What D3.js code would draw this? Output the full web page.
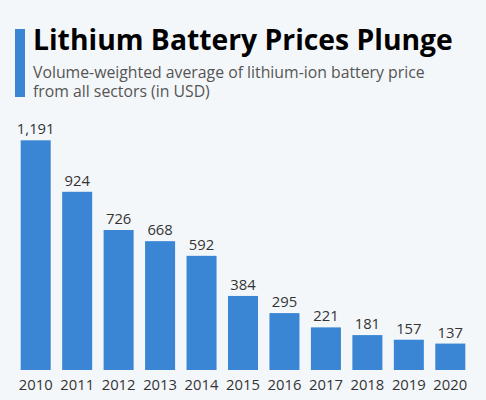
<!DOCTYPE html>
<html><head><meta charset="utf-8">
<script src="https://cdn.jsdelivr.net/npm/d3@7"></script>
<style>body{margin:0;background:#f4f7fa;}svg{display:block;}</style>
</head><body>
<script>
const years = ["2010","2011","2012","2013","2014","2015","2016","2017","2018","2019","2020"];
const prices = [1191,924,726,668,592,384,295,221,181,157,137];
const title = "Lithium Battery Prices Plunge";
const subtitle = ["Volume-weighted average of lithium-ion battery price","from all sectors (in USD)"];

const W=486,H=400;
const svg=d3.select("body").append("svg").attr("width",W).attr("height",H);
svg.append("rect").attr("width",W).attr("height",H).attr("fill","#f4f7fa");
svg.append("rect").attr("x",15).attr("y",29).attr("width",10).attr("height",68).attr("fill","#3a86d4");
svg.append("text").attr("x",33).attr("y",50).text(title)
  .attr("font-family","Open Sans").attr("font-weight",700).attr("font-size",28.3).attr("fill","#000");
svg.selectAll("text.sub").data(subtitle).enter().append("text").attr("class","sub")
  .attr("x",33).attr("y",(d,i)=>78+i*18.5).text(d=>d)
  .attr("font-family","Open Sans").attr("font-size",15.8).attr("fill","#555");

const x=d3.scaleBand().domain(years).range([20.7,465.3]).paddingInner(0.276).paddingOuter(0);
const y=d3.scaleLinear().domain([0,1191]).range([370,140.3]);
const fmt=d3.format(",");
svg.selectAll("rect.bar").data(prices).enter().append("rect").attr("class","bar")
  .attr("x",(d,i)=>x(years[i])).attr("width",x.bandwidth())
  .attr("y",d=>y(d)).attr("height",d=>y(0)-y(d)).attr("fill","#3a86d4");
svg.selectAll("text.val").data(prices).enter().append("text").attr("class","val")
  .attr("x",(d,i)=>x(years[i])+x.bandwidth()/2).attr("y",d=>y(d)-6)
  .attr("text-anchor","middle").text(d=>fmt(d))
  .attr("font-family","Open Sans").attr("font-size",14.8).attr("fill","#333");
const ax=svg.append("g").attr("transform","translate(0,370)").call(d3.axisBottom(x).tickSize(0).tickPadding(9));
ax.select(".domain").remove();
ax.selectAll("text").attr("font-family","Open Sans").attr("font-size",14.8).attr("fill","#333");
</script>
</body></html>
